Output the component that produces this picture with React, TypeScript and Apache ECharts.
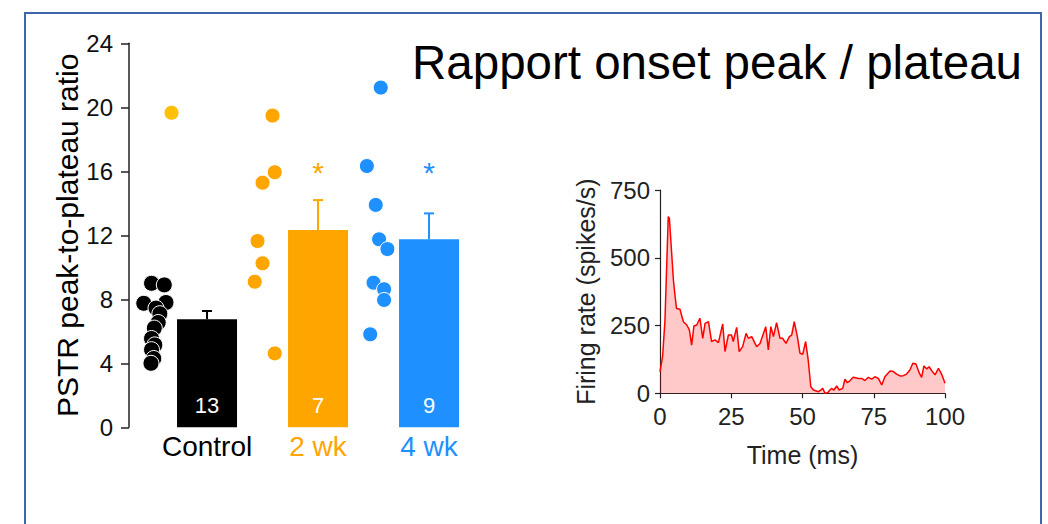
import React, { useEffect, useRef } from "react";
import * as echarts from "echarts";

// ---- Left panel data ----
const CATEGORIES = ["Control", "2 wk", "4 wk"];
const CAT_COLORS = ["#000000", "#FFA500", "#1E90FF"];
const BAR_MEANS = [6.75, 12.33, 11.75];
const BAR_SEM = [0.52, 1.87, 1.62];
const N_COUNTS = [13, 7, 9];
const SIG_MARK = ["", "*", "*"];
const SIG_LEVEL = [0, 16.35, 16.35];
const Y_TICKS_LEFT = [0, 4, 8, 12, 16, 20, 24];

// individual points: x = category index + jitter
const CONTROL_X = [-0.5, -0.385, -0.57, -0.37, -0.46, -0.425, -0.44, -0.475, -0.5, -0.47, -0.5, -0.48, -0.505];
const CONTROL_Y = [9.0, 8.9, 7.75, 7.8, 7.45, 7.1, 6.55, 6.2, 5.55, 5.15, 4.85, 4.3, 4.0];
const OUTLIER_X = [-0.32];
const OUTLIER_Y = [19.66];
const WK2_X = [0.59, 0.61, 0.5, 0.455, 0.5, 0.43, 0.61];
const WK2_Y = [19.48, 15.94, 15.29, 11.64, 10.25, 9.1, 4.62];
const WK4_X = [1.565, 1.44, 1.52, 1.55, 1.625, 1.5, 1.595, 1.595, 1.47];
const WK4_Y = [21.23, 16.33, 13.9, 11.75, 11.14, 9.04, 8.63, 7.96, 5.81];

// ---- Right panel data (PSTH) ----
const TIME_MS = [0, 0.9, 1.75, 2.3, 2.9, 3.3, 4.1, 4.7, 5.3, 5.8, 7.0, 8.2, 9.4, 10.3, 11.1, 11.9, 12.9, 14.0, 15.0, 15.8, 17.0, 18.1, 19.3, 20.5, 22.0, 22.8, 24.0, 25.1, 25.7, 26.9, 27.8, 29.0, 30.2, 31.0, 32.2, 33.9, 35.1, 36.3, 37.1, 38.0, 38.9, 39.8, 40.9, 42.1, 43.0, 44.2, 45.4, 46.2, 47.1, 48.2, 49.1, 50.1, 51.1, 52.0, 52.9, 53.8, 55.6, 56.4, 57.1, 57.9, 58.8, 59.6, 60.2, 61.0, 62.0, 62.9, 64.1, 64.9, 65.7, 66.7, 67.8, 69.6, 70.8, 71.9, 73.1, 74.3, 75.4, 76.6, 77.8, 78.9, 80.7, 81.9, 83.0, 84.2, 85.4, 86.5, 87.7, 88.7, 89.8, 91.0, 91.8, 92.6, 93.6, 94.4, 95.3, 96.5, 97.7, 98.8, 100];
const RATE = [80, 135, 270, 455, 652, 645, 516, 418, 357, 313, 310, 264, 252, 234, 178, 248, 252, 277, 203, 258, 264, 191, 197, 187, 256, 154, 215, 215, 191, 243, 154, 172, 221, 203, 209, 172, 184, 221, 246, 160, 246, 209, 261, 203, 203, 184, 209, 215, 264, 209, 148, 144, 191, 123, 25, 12, 6, 12, 18, 0, 2, 12, 18, 12, 27, 12, 18, 52, 39, 47, 59, 55, 55, 47, 59, 52, 61, 55, 31, 61, 82, 80, 71, 64, 65, 71, 86, 111, 108, 74, 59, 101, 90, 98, 84, 68, 92, 71, 37];
const X_TICKS_RIGHT = [0, 25, 50, 75, 100];
const Y_TICKS_RIGHT = [0, 250, 500, 750];

const TITLE = "Rapport onset peak / plateau";
const ARIAL = "'Liberation Sans', Arial, Helvetica, sans-serif";

function pts(xs: number[], ys: number[]) {
  return xs.map((x, i) => [x, ys[i]]);
}

export default function App() {
  const ref = useRef<HTMLDivElement>(null);
  useEffect(() => {
    if (!ref.current) return;
    const chart = echarts.init(ref.current, undefined, { renderer: "svg" });
    const dotStyle = (c: string) => ({ color: c, borderColor: "#ffffff", borderWidth: 1, opacity: 1 });
    const option: any = {
      animation: false,
      backgroundColor: "#ffffff",
      graphic: [
        {
          type: "rect",
          shape: { x: 25, y: 13, width: 1016, height: 600 },
          style: { fill: "none", stroke: "#3F65AD", lineWidth: 2 },
          silent: true,
        },
        {
          type: "text",
          x: 412,
          y: 62,
          style: {
            text: TITLE,
            font: `47.5px ${ARIAL}`,
            fill: "#000000",
            align: "left",
            verticalAlign: "middle",
          },
        },
      ],
      grid: [
        { left: 129, top: 43.3, width: 333, height: 384 },
        { left: 660, top: 190, width: 285, height: 203.3 },
      ],
      xAxis: [
        {
          type: "value",
          gridIndex: 0,
          min: -0.703,
          max: 2.297,
          axisLine: { show: false },
          axisTick: { show: false },
          splitLine: { show: false },
          axisLabel: {
            customValues: [0, 1, 2],
            margin: 5,
            formatter: (v: number) => `{c${Math.round(v)}|${CATEGORIES[Math.round(v)]}}`,
            rich: {
              c0: { color: CAT_COLORS[0], fontSize: 28, fontFamily: ARIAL },
              c1: { color: CAT_COLORS[1], fontSize: 28, fontFamily: ARIAL },
              c2: { color: CAT_COLORS[2], fontSize: 28, fontFamily: ARIAL },
            },
          },
        },
        {
          type: "value",
          gridIndex: 1,
          min: 0,
          max: 100,
          interval: 25,
          name: "Time (ms)",
          nameLocation: "middle",
          nameGap: 49,
          nameTextStyle: { fontSize: 25, fontFamily: ARIAL, color: "#222" },
          axisLine: { onZero: false, lineStyle: { color: "#222", width: 1.2 } },
          axisTick: { length: 5, lineStyle: { color: "#222", width: 1.2 } },
          splitLine: { show: false },
          axisLabel: {
            margin: 11,
            fontSize: 24,
            fontFamily: ARIAL,
            color: "#222",
            customValues: X_TICKS_RIGHT,
          },
        },
      ],
      yAxis: [
        {
          type: "value",
          gridIndex: 0,
          min: 0,
          max: 24,
          interval: 4,
          name: "PSTR peak-to-plateau ratio",
          nameLocation: "middle",
          nameGap: 45,
          nameTextStyle: { fontSize: 30, fontFamily: ARIAL, color: "#000" },
          axisLine: { show: true, onZero: false, lineStyle: { color: "#222", width: 1.5 } },
          axisTick: { show: true, length: 8, lineStyle: { color: "#222", width: 1.5 } },
          splitLine: { show: false },
          axisLabel: {
            margin: 16,
            fontSize: 24,
            fontFamily: ARIAL,
            color: "#111",
            customValues: Y_TICKS_LEFT,
          },
        },
        {
          type: "value",
          gridIndex: 1,
          min: 0,
          max: 750,
          interval: 250,
          name: "Firing rate (spikes/s)",
          nameLocation: "middle",
          nameGap: 62,
          nameTextStyle: { fontSize: 25, fontFamily: ARIAL, color: "#222" },
          axisLine: { show: true, onZero: false, lineStyle: { color: "#222", width: 1.2 } },
          axisTick: { show: true, length: 5, lineStyle: { color: "#222", width: 1.2 } },
          splitLine: { show: false },
          axisLabel: {
            margin: 10,
            fontSize: 24,
            fontFamily: ARIAL,
            color: "#222",
            customValues: Y_TICKS_RIGHT,
          },
        },
      ],
      series: [
        {
          type: "bar",
          xAxisIndex: 0,
          yAxisIndex: 0,
          barWidth: 60,
          data: BAR_MEANS.map((m, i) => ({
            value: [i, m],
            itemStyle: { color: CAT_COLORS[i] },
          })),
          label: {
            show: true,
            position: "insideBottom",
            distance: 11,
            color: "#ffffff",
            fontSize: 22,
            fontFamily: ARIAL,
            formatter: (p: any) => String(N_COUNTS[p.dataIndex]),
          },
          z: 3,
        },
        {
          type: "custom",
          xAxisIndex: 0,
          yAxisIndex: 0,
          data: BAR_MEANS.map((m, i) => [i, m, BAR_SEM[i]]),
          encode: { x: 0, y: 1 },
          z: 2,
          renderItem: (params: any, api: any) => {
            const x = api.value(0);
            const m = api.value(1);
            const s = api.value(2);
            const base = api.coord([x, m]);
            const top = api.coord([x, m + s]);
            const c = CAT_COLORS[params.dataIndex];
            return {
              type: "group",
              children: [
                {
                  type: "line",
                  shape: { x1: base[0], y1: base[1], x2: top[0], y2: top[1] },
                  style: { stroke: c, lineWidth: 2 },
                },
                {
                  type: "line",
                  shape: { x1: top[0] - 5, y1: top[1], x2: top[0] + 5, y2: top[1] },
                  style: { stroke: c, lineWidth: 2 },
                },
              ],
            };
          },
        },
        {
          type: "custom",
          xAxisIndex: 0,
          yAxisIndex: 0,
          data: SIG_LEVEL.map((v, i) => [i, v]),
          encode: { x: 0, y: 1 },
          renderItem: (params: any, api: any) => {
            const i = params.dataIndex;
            if (!SIG_MARK[i]) return null;
            const p = api.coord([api.value(0), api.value(1)]);
            return {
              type: "text",
              x: p[0],
              y: p[1] + 7,
              style: {
                text: SIG_MARK[i],
                fill: CAT_COLORS[i],
                font: `30px ${ARIAL}`,
                align: "center",
                verticalAlign: "middle",
              },
            };
          },
        },
        {
          type: "scatter",
          xAxisIndex: 0,
          yAxisIndex: 0,
          symbolSize: 16,
          clip: false,
          itemStyle: dotStyle("#000000"),
          data: pts(CONTROL_X, CONTROL_Y),
          z: 4,
        },
        {
          type: "scatter",
          xAxisIndex: 0,
          yAxisIndex: 0,
          symbolSize: 15,
          clip: false,
          itemStyle: dotStyle("#FFC000"),
          data: pts(OUTLIER_X, OUTLIER_Y),
          z: 4,
        },
        {
          type: "scatter",
          xAxisIndex: 0,
          yAxisIndex: 0,
          symbolSize: 15,
          clip: false,
          itemStyle: dotStyle(CAT_COLORS[1]),
          data: pts(WK2_X, WK2_Y),
          z: 4,
        },
        {
          type: "scatter",
          xAxisIndex: 0,
          yAxisIndex: 0,
          symbolSize: 15,
          clip: false,
          itemStyle: dotStyle(CAT_COLORS[2]),
          data: pts(WK4_X, WK4_Y),
          z: 4,
        },
        {
          type: "line",
          xAxisIndex: 1,
          yAxisIndex: 1,
          data: pts(TIME_MS, RATE),
          showSymbol: false,
          symbol: "none",
          lineStyle: { color: "#FF0000", width: 1.5 },
          areaStyle: { color: "rgba(255,0,0,0.3)" },
        },
      ],
    };
    chart.setOption(option);
    return () => chart.dispose();
  }, []);
  return (
    <div
      ref={ref}
      style={{ position: "fixed", left: 0, top: 0, width: 1048, height: 524, background: "#fff" }}
    />
  );
}
